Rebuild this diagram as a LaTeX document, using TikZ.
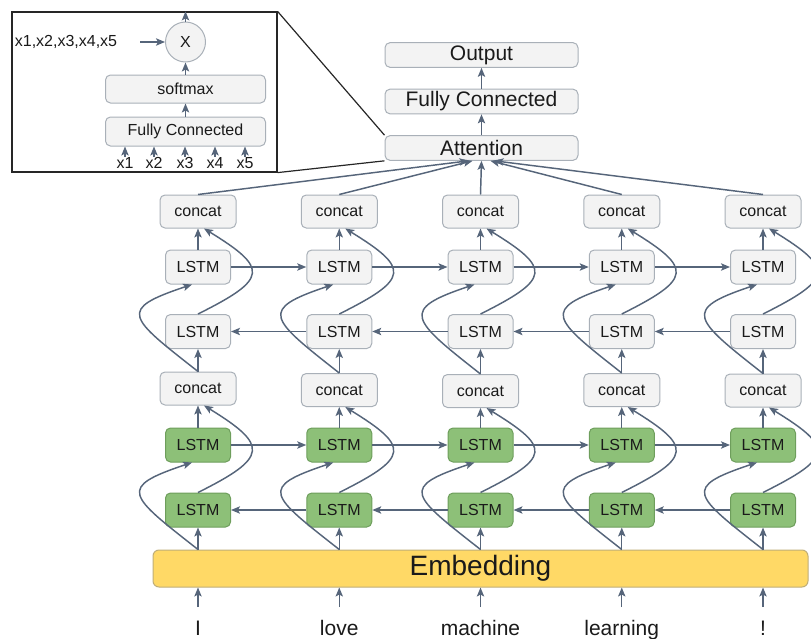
\documentclass[tikz,border=0pt]{standalone}
\usepackage{fontspec}
\setmainfont{Liberation Sans}
\usepackage{tikz}
\usetikzlibrary{arrows.meta}

\definecolor{linegray}{HTML}{56657A}
\definecolor{boxfill}{HTML}{F3F3F3}
\definecolor{boxline}{HTML}{A9B0B8}
\definecolor{lstmgreen}{HTML}{8DC078}
\definecolor{lstmline}{HTML}{6E9E5C}
\definecolor{embfill}{HTML}{FFD966}
\definecolor{embline}{HTML}{BFAE78}
\definecolor{txt}{HTML}{1A1A1A}

\tikzset{
  smalltxt/.style={font=\fontsize{12}{14}\selectfont, text=txt},
  midtxt/.style={font=\fontsize{15.75}{18}\selectfont, text=txt},
  blk/.style={draw=boxline, fill=boxfill, rounded corners=3.75pt, line width=0.75pt, inner sep=0pt},
  lstm/.style={blk, smalltxt, minimum width=48.75pt, minimum height=25.5pt},
  lstmg/.style={lstm, fill=lstmgreen, draw=lstmline},
  cat/.style={blk, smalltxt, minimum width=57pt, minimum height=24.75pt},
  topbox/.style={blk, midtxt, minimum width=144.75pt, minimum height=18.5pt},
  conn/.style={draw=linegray, line width=1.1pt, -{Stealth[length=6.75pt,width=5.5pt,inset=1.5pt]}},
  insetline/.style={draw=black!85, line width=0.9pt}
}

\begin{document}
\begin{tikzpicture}[x=0.75pt,y=-0.75pt]
\useasboundingbox (0,0) rectangle (811,639);
\clip (0,0) rectangle (811,639);

% top stack
\node[topbox] (out) at (481.5,55) {Output};
\node[topbox] (fc) at (481.5,101.5) {Fully Connected};
\node[topbox] (att) at (481.5,148) {Attention};
\draw[conn] (att.north) -- (fc.south);
\draw[conn] (fc.north) -- (out.south);

% embedding
\node[draw=embline, fill=embfill, rounded corners=4.5pt, line width=0.75pt,
      minimum width=491.25pt, minimum height=27.75pt, inner sep=0pt,
      font=\fontsize{21}{24}\selectfont, text=txt] (emb) at (480.5,568.5) {Embedding};

% columns
\foreach \i/\w/\cy in {1/I/388.5,2/love/390,3/machine/391,4/learning/390,5/!/390.5}{
  \pgfmathsetmacro\c{198+141.25*(\i-1)}
  \node[lstmg] (bwA\i) at (\c,510) {LSTM};
  \node[lstmg] (fwA\i) at (\c,445) {LSTM};
  \node[cat] (catA\i) at (\c,\cy) {concat};
  \node[lstm] (bwB\i) at (\c,331.5) {LSTM};
  \node[lstm] (fwB\i) at (\c,267) {LSTM};
  \node[cat] (catB\i) at (\c,211.5) {concat};
  \node[midtxt, anchor=base, inner sep=0pt] (word\i) at (\c,635) {\w};
  \coordinate (wtop\i) at (\c,607);
  \draw[conn] (wtop\i) -- (emb.south -| word\i);
  % first layer
  \draw[conn] (emb.north -| bwA\i) -- (bwA\i.south);
  \draw[conn] (emb.north -| bwA\i) .. controls +(-70,-55) and +(-75,25) .. ([xshift=-4.5pt]fwA\i.south);
  \draw[conn] (bwA\i.north) .. controls +(70,-35) and +(65,40) .. ([xshift=4.5pt]catA\i.south);
  \draw[conn] (fwA\i.north) -- (catA\i.south);
  % second layer
  \draw[conn] (catA\i.north) -- (bwB\i.south);
  \draw[conn] (catA\i.north) .. controls +(-70,-55) and +(-75,25) .. ([xshift=-4.5pt]fwB\i.south);
  \draw[conn] (bwB\i.north) .. controls +(70,-35) and +(65,40) .. ([xshift=4.5pt]catB\i.south);
  \draw[conn] (fwB\i.north) -- (catB\i.south);
}

% recurrent links
\foreach \i [evaluate=\i as \j using int(\i+1)] in {1,...,4}{
  \draw[conn] (fwA\i.east) -- (fwA\j.west);
  \draw[conn] (bwA\j.west) -- (bwA\i.east);
  \draw[conn] (fwB\i.east) -- (fwB\j.west);
  \draw[conn] (bwB\j.west) -- (bwB\i.east);
}

% into attention
\foreach \i/\d in {1/-13,2/-9,3/0,4/9,5/13}
  \draw[conn] (catB\i.north) -- ([xshift=\d*0.75pt]att.south);

% attention detail
\node[insetline, draw, minimum width=198.75pt, minimum height=120pt, inner sep=0pt] (inset) at (144.5,92) {};
\draw[insetline] (inset.north east) -- (att.north west);
\draw[insetline] (inset.south east) -- (att.south west);
\node[blk, smalltxt, minimum width=120pt, minimum height=21.75pt] (ifc) at (185.5,131.5) {Fully Connected};
\node[blk, smalltxt, minimum width=120pt, minimum height=21pt] (smax) at (185.5,89) {softmax};
\node[circle, draw=boxline, fill=boxfill, line width=0.75pt, minimum size=30pt, inner sep=0pt, smalltxt] (mul) at (185.5,42) {X};
\node[smalltxt, inner sep=0pt] (xs) at (66,42) {x1,x2,x3,x4,x5};
\coordinate (xsend) at (140,42);
\draw[conn] (xsend) -- (mul.west);
\draw[conn] (mul.north) -- (mul.north |- inset.north);
\draw[conn] (smax.north) -- (mul.south);
\draw[conn] (ifc.north) -- (smax.south);
\foreach \k/\x in {1/125,2/154,3/185,4/215,5/245}{
  \node[smalltxt, anchor=base, inner sep=0pt] (xin\k) at (\x,168) {x\k};
  \draw[conn] (xin\k.north) -- (xin\k.north |- ifc.south);
}

\end{tikzpicture}
\end{document}
